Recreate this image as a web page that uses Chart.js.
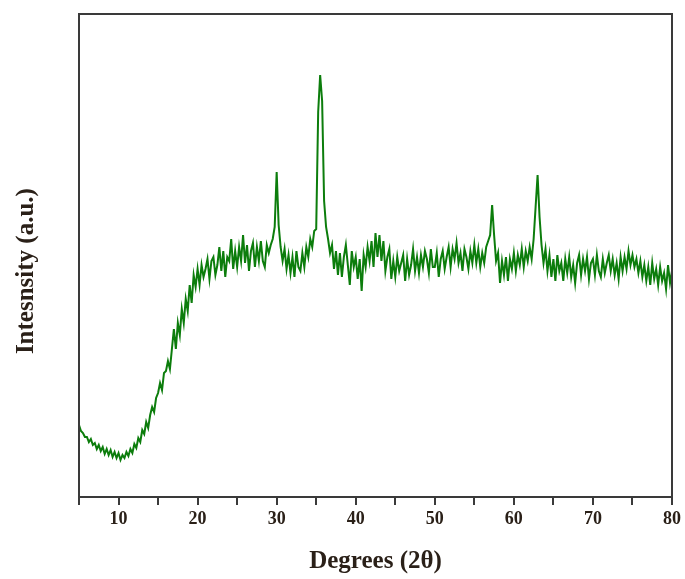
<!DOCTYPE html>
<html>
<head>
<meta charset="utf-8">
<title>XRD pattern</title>
<script src="https://cdn.jsdelivr.net/npm/chart.js@4/dist/chart.umd.min.js"></script>
<style>
    html, body { margin: 0; padding: 0; background: #fff; }
    #xrd { display: block; }
</style>
</head>
<body>
<canvas id="xrd" width="685" height="579"></canvas>
<script>
/* XRD scan: one intensity every 0.25 deg from 5 to 80 (2-theta) */
const twoThetaStart = 5;
const twoThetaStep = 0.25;
const xTicks = [5, 10, 15, 20, 25, 30, 35, 40, 45, 50, 55, 60, 65, 70, 75, 80];
const xLabels = [10, 20, 30, 40, 50, 60, 70, 80];

// arbitrary units, 4 readings per degree
const intensity = [
    72, 66, 64, 60,      // 5
    60, 55, 58, 52,      // 6
    54, 48, 52, 46,      // 7
    50, 43, 48, 42,      // 8
    47, 40, 45, 39,      // 9
    44, 37, 42, 39,      // 10
    45, 41, 48, 44,      // 11
    53, 49, 59, 55,      // 12
    67, 63, 75, 69,      // 13
    82, 90, 85, 99,      // 14
    104, 114, 107, 124,  // 15
    126, 136, 128, 148,  // 16
    168, 148, 174, 162,  // 17
    188, 174, 198, 186,  // 18
    212, 194, 222, 210,  // 19
    228, 212, 232, 220,  // 20
    228, 238, 218, 236,  // 21
    240, 222, 232, 250,  // 22
    226, 246, 220, 240,  // 23
    236, 258, 228, 246,  // 24
    230, 250, 236, 262,  // 25
    234, 252, 226, 246,  // 26
    254, 230, 250, 236,  // 27
    256, 236, 230, 252,  // 28
    244, 252, 258, 270,  // 29
    325, 272, 250, 236,  // 30
    248, 228, 242, 224,  // 31
    240, 220, 246, 230,  // 32
    226, 244, 230, 250,  // 33
    240, 258, 250, 266,  // 34
    268, 385, 422, 396,  // 35
    296, 270, 258, 244,  // 36
    252, 228, 246, 222,  // 37
    244, 220, 240, 252,  // 38
    232, 212, 246, 230,  // 39
    240, 218, 238, 206,  // 40
    242, 230, 250, 236,  // 41
    256, 230, 264, 240,  // 42
    262, 236, 256, 226,  // 43
    240, 248, 218, 236,  // 44
    220, 240, 226, 234,  // 45
    242, 216, 238, 222,  // 46
    232, 248, 226, 240,  // 47
    224, 242, 230, 246,  // 48
    238, 224, 248, 230,  // 49
    230, 244, 220, 238,  // 50
    246, 228, 240, 250,  // 51
    230, 248, 238, 254,  // 52
    234, 244, 226, 248,  // 53
    240, 228, 246, 234,  // 54
    252, 234, 248, 230,  // 55
    244, 234, 250, 256,  // 56
    262, 292, 262, 236,  // 57
    244, 214, 236, 222,  // 58
    240, 216, 238, 228,  // 59
    244, 226, 242, 232,  // 60
    248, 230, 246, 236,  // 61
    250, 238, 258, 290,  // 62
    322, 280, 252, 234,  // 63
    248, 226, 242, 220,  // 64
    238, 216, 242, 226,  // 65
    234, 216, 238, 224,  // 66
    240, 220, 232, 214,  // 67
    234, 242, 222, 238,  // 68
    226, 240, 218, 234,  // 69
    238, 222, 242, 226,  // 70
    220, 238, 224, 234,  // 71
    242, 226, 238, 222,  // 72
    234, 218, 240, 226,  // 73
    240, 228, 246, 232,  // 74
    242, 230, 238, 224,  // 75
    236, 220, 232, 216,  // 76
    230, 212, 234, 218,  // 77
    228, 212, 230, 216,  // 78
    224, 208, 232, 214,  // 79
    226                  // 80
];

const serif = '"Liberation Serif", "Times New Roman", serif';
const axisColor = "#3a3a3a";
const textColor = "#2a2018";

/* box round the plot area */
const framePlugin = {
    id: "frame",
    afterDatasetsDraw(chart) {
        const a = chart.chartArea, ctx = chart.ctx;
        ctx.save();
        ctx.strokeStyle = axisColor;
        ctx.lineWidth = 2;
        ctx.strokeRect(a.left, a.top, a.right - a.left, a.bottom - a.top);
        ctx.restore();
    }
};

const points = intensity.map((v, i) => ({ x: twoThetaStart + i * twoThetaStep, y: v }));

new Chart(document.getElementById("xrd"), {
    type: "line",
    data: {
        datasets: [{
            data: points,
            borderColor: "#0c7d0c",
            borderWidth: 2,
            pointRadius: 0,
            tension: 0,
            fill: false
        }]
    },
    options: {
        responsive: false,
        animation: false,
        devicePixelRatio: 1,
        layout: { padding: { left: 0, right: 11, top: 14, bottom: 0 } },
        plugins: { legend: { display: false }, tooltip: { enabled: false } },
        scales: {
            x: {
                type: "linear",
                min: 5, max: 80,
                afterFit: s => { s.height = 82; },
                afterBuildTicks: s => { s.ticks = xTicks.map(v => ({ value: v })); },
                ticks: {
                    autoSkip: false,
                    maxRotation: 0,
                    padding: 4,
                    color: textColor,
                    font: { family: serif, size: 18, weight: "bold" },
                    callback: v => xLabels.includes(v) ? String(v) : ""
                },
                grid: { drawOnChartArea: false, drawTicks: true, tickLength: 8, color: axisColor, lineWidth: 2 },
                border: { display: true, color: axisColor, width: 2 },
                title: {
                    display: true,
                    text: "Degrees (2θ)",
                    color: textColor,
                    font: { family: serif, size: 25, weight: "bold" },
                    padding: { top: 0, bottom: 2 }
                }
            },
            y: {
                min: 0, max: 483,
                afterFit: s => { s.width = 79; },
                ticks: { display: false },
                grid: { display: false },
                border: { display: true, color: axisColor, width: 2 },
                title: {
                    display: true,
                    // trailing spaces nudge the rotated title down, as in the original
                    text: "Intesnsity (a.u.)     ",
                    color: textColor,
                    font: { family: serif, size: 25, weight: "bold" },
                    padding: { top: 12, bottom: 0 }
                }
            }
        }
    },
    plugins: [framePlugin]
});
</script>
</body>
</html>
